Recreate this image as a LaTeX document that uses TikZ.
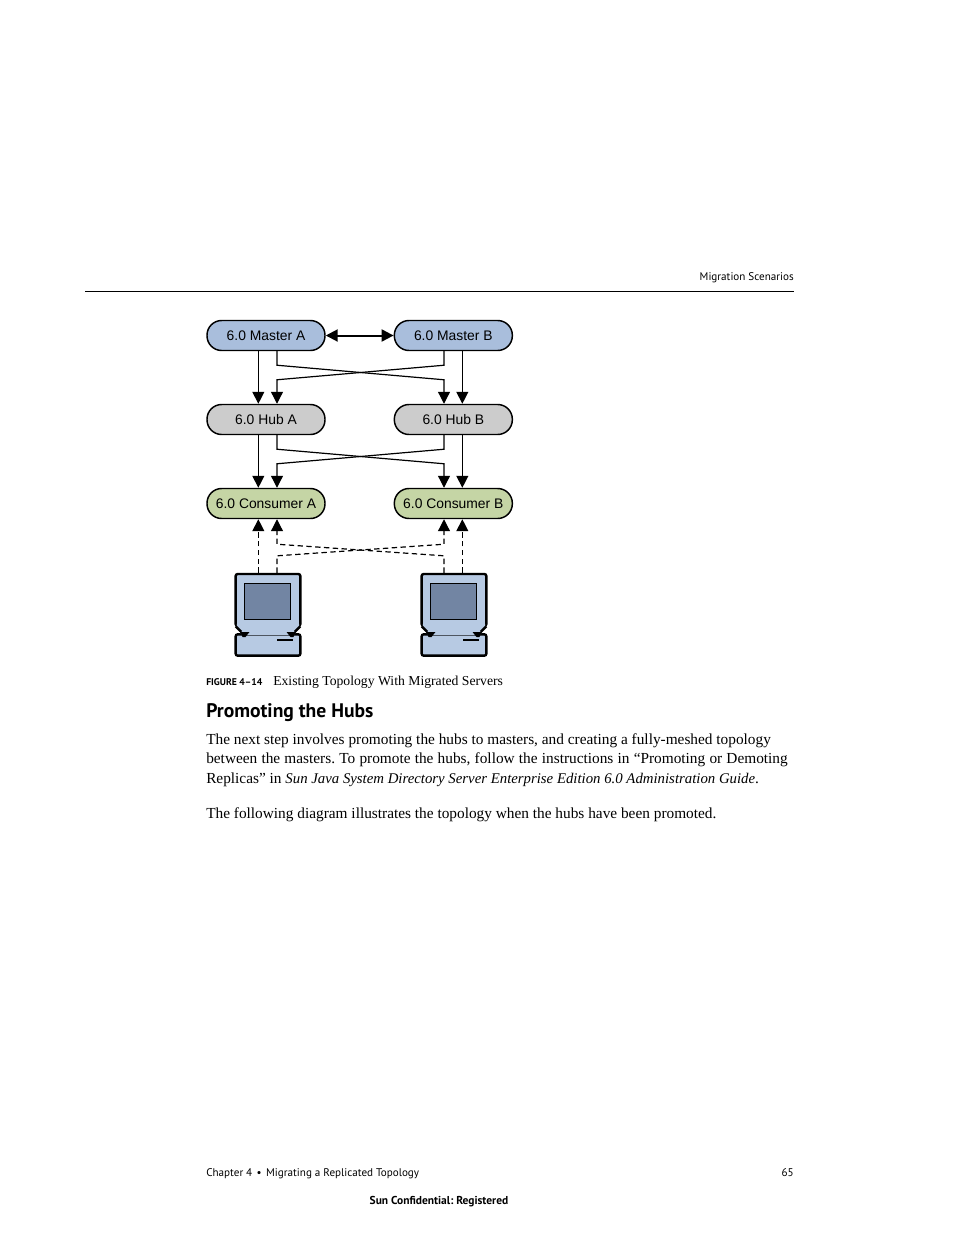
\documentclass[tikz,border=0pt]{standalone}
\usepackage{fontspec}
\setmainfont{Liberation Serif}
\newfontfamily\pagesans{PT Sans}
\newfontfamily\boxsans{Liberation Sans}
\frenchspacing
\definecolor{masterblue}{HTML}{A9BEDC}
\definecolor{hubgray}{HTML}{CCCCCC}
\definecolor{consumergreen}{HTML}{C5D5A5}
\definecolor{monitorblue}{HTML}{B7CAE3}
\definecolor{screenblue}{HTML}{7285A3}
\usetikzlibrary{arrows.meta,positioning}
\tikzset{
	serverbox/.style={draw, line width=1.1pt, rectangle, rounded corners=11pt, minimum width=88.5pt, minimum height=22.5pt, inner sep=0pt, font=\boxsans\fontsize{10.4}{12}\selectfont},
	wire/.style={line width=0.9pt, -{Triangle[length=9pt,width=9pt]}},
	dashwire/.style={wire, dash pattern=on 4pt off 2.6pt},
	monitor/.style={draw, line width=1.8pt, rectangle, rounded corners=1.5pt, fill=monitorblue, minimum width=48.5pt, minimum height=39pt, inner sep=0pt},
	screen/.style={draw, line width=0.9pt, fill=screenblue, minimum width=35pt, minimum height=27.5pt, inner sep=0pt},
	pcbase/.style={draw, line width=1.8pt, rectangle, rounded corners=1.5pt, fill=monitorblue, minimum width=48.5pt, minimum height=16pt, inner sep=0pt},
	bodyline/.style={anchor=base west, inner sep=0pt, font=\fontsize{11.5}{14}\selectfont},
	pageline/.style={inner sep=0pt, font=\pagesans\fontsize{8.33}{10}\selectfont}
}
\newcommand{\pcstand}[1]{
	\fill[monitorblue] ([xshift=-23.4pt,yshift=2.5pt]#1.south) -- ([xshift=23.4pt,yshift=2.5pt]#1.south) -- ([xshift=23.4pt,yshift=0.5pt]#1.south) -- ([xshift=19.5pt,yshift=-6pt]#1.south) -- ([xshift=-19.5pt,yshift=-6pt]#1.south) -- ([xshift=-23.4pt,yshift=0.5pt]#1.south) -- cycle;
	\draw[line width=1.8pt] ([xshift=-24.2pt,yshift=0.6pt]#1.south) -- ([xshift=-20pt,yshift=-3.5pt]#1.south);
	\draw[line width=1.8pt] ([xshift=24.2pt,yshift=0.6pt]#1.south) -- ([xshift=20pt,yshift=-3.5pt]#1.south);
	\fill ([xshift=-21pt,yshift=-3.7pt]#1.south) -- ([xshift=-14pt,yshift=-3.7pt]#1.south) -- ([xshift=-17pt,yshift=-7.5pt]#1.south) -- ([xshift=-19pt,yshift=-7.5pt]#1.south) -- cycle;
	\fill ([xshift=21pt,yshift=-3.7pt]#1.south) -- ([xshift=14pt,yshift=-3.7pt]#1.south) -- ([xshift=17pt,yshift=-7.5pt]#1.south) -- ([xshift=19pt,yshift=-7.5pt]#1.south) -- cycle;
}
\begin{document}
\begin{tikzpicture}[x=0.75pt, y=-0.75pt, on grid]
	\useasboundingbox (0,0) rectangle (954,1235);

	\node[pageline, anchor=base east] (header) at (794,280) {Migration Scenarios};
	\draw[line width=0.6pt] (85,291.5) coordinate (ruleL) -- (794,291.5) coordinate (ruleR);

	\node[serverbox, fill=masterblue] (masterA) at (266,335.5) {6.0 Master A};
	\node[serverbox, fill=masterblue, right=140.5pt of masterA] (masterB) {6.0 Master B};
	\node[serverbox, fill=hubgray, below=63pt of masterA] (hubA) {6.0 Hub A};
	\node[serverbox, fill=hubgray, below=63pt of masterB] (hubB) {6.0 Hub B};
	\node[serverbox, fill=consumergreen, below=63pt of hubA] (consumerA) {6.0 Consumer A};
	\node[serverbox, fill=consumergreen, below=63pt of hubB] (consumerB) {6.0 Consumer B};

	\draw[line width=1.5pt, {Triangle[length=9pt,width=9pt]}-{Triangle[length=9pt,width=9pt]}] (masterA) -- (masterB);

	\draw[wire] ([xshift=-5.75pt]masterA.south) -- ([xshift=-5.75pt]hubA.north);
	\draw[wire] ([xshift=6.75pt]masterB.south) -- ([xshift=6.75pt]hubB.north);
	\draw[wire] ([xshift=8.25pt]masterA.south) -- ++(0,14) -- ([xshift=-7pt,yshift=18pt]hubB.north) -- ([xshift=-7pt]hubB.north);
	\draw[wire] ([xshift=-7pt]masterB.south) -- ++(0,14) -- ([xshift=8.25pt,yshift=18pt]hubA.north) -- ([xshift=8.25pt]hubA.north);

	\draw[wire] ([xshift=-5.75pt]hubA.south) -- ([xshift=-5.75pt]consumerA.north);
	\draw[wire] ([xshift=6.75pt]hubB.south) -- ([xshift=6.75pt]consumerB.north);
	\draw[wire] ([xshift=8.25pt]hubA.south) -- ++(0,14) -- ([xshift=-7pt,yshift=18pt]consumerB.north) -- ([xshift=-7pt]consumerB.north);
	\draw[wire] ([xshift=-7pt]hubB.south) -- ++(0,14) -- ([xshift=8.25pt,yshift=18pt]consumerA.north) -- ([xshift=8.25pt]consumerA.north);

	\node[monitor] (monitorA) at (268,600) {};
	\node[screen] (screenA) at (267.5,601.5) {};
	\node[pcbase] (baseA) at (268,645) {};
	\pcstand{monitorA}
	\draw[line width=1.5pt] (277,640) coordinate (slotA1) -- (293,640) coordinate (slotA2);

	\node[monitor, right=139.5pt of monitorA] (monitorB) {};
	\node[screen, right=139.5pt of screenA] (screenB) {};
	\node[pcbase, right=139.5pt of baseA] (baseB) {};
	\pcstand{monitorB}
	\draw[line width=1.5pt] (463,640) coordinate (slotB1) -- (479,640) coordinate (slotB2);

	\draw[dashwire] ([xshift=-7.25pt]monitorA.north) -- ([xshift=-5.75pt]consumerA.south);
	\draw[dashwire] ([xshift=6.25pt]monitorB.north) -- ([xshift=6.75pt]consumerB.south);
	\draw[dashwire] ([xshift=6.75pt]monitorA.north) -- ++(0,-17) -- ([xshift=-7pt,yshift=-18.75pt]consumerB.south) -- ([xshift=-7pt]consumerB.south);
	\draw[dashwire] ([xshift=-7.5pt]monitorB.north) -- ++(0,-17) -- ([xshift=8.25pt,yshift=-18.75pt]consumerA.south) -- ([xshift=8.25pt]consumerA.south);

	\node[pageline, anchor=base west, font=\pagesans\bfseries\fontsize{7.3}{8}\selectfont] (figlabel) at (206,685) {FIGURE 4–14};
	\node[bodyline, font=\fontsize{10.27}{12}\selectfont] (figcaption) at (273,685) {Existing Topology With Migrated Servers};
	\node[pageline, anchor=base west, font=\pagesans\bfseries\fontsize{14.7}{16}\selectfont] (heading) at (206,717) {Promoting the Hubs};

	\node[bodyline] (line1) at (206,744) {The next step involves promoting the hubs to masters, and creating a fully-meshed topology};
	\node[bodyline] (line2) at (206,763.5) {\spaceskip=\dimexpr\fontdimen2\font+0.27pt\relax between the masters. To promote the hubs, follow the instructions in “Promoting or Demoting};
	\node[bodyline] (line3) at (206,783) {Replicas” in {\fontsize{11.1}{14}\selectfont\textit{Sun Java System Directory Server Enterprise Edition 6.0 Administration Guide}}.};
	\node[bodyline] (line4) at (206,818) {The following diagram illustrates the topology when the hubs have been promoted.};

	\node[pageline, anchor=base west] (chapter) at (206,1176) {Chapter 4\hspace{0.4em}•\hspace{0.4em}Migrating a Replicated Topology};
	\node[pageline, anchor=base east] (pagenum) at (794,1176) {65};
	\node[pageline, anchor=base, font=\pagesans\bfseries\fontsize{8.6}{10}\selectfont] (confidential) at (439,1204) {Sun Confidential: Registered};
\end{tikzpicture}
\end{document}
